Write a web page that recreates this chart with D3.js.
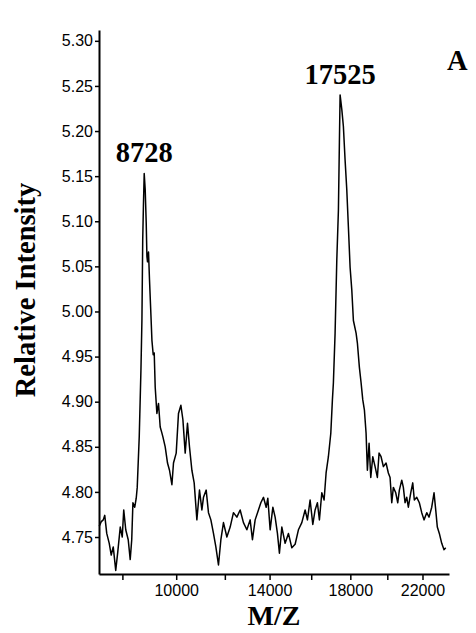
<!DOCTYPE html>
<html>
<head>
<meta charset="utf-8">
<script src="https://cdn.jsdelivr.net/npm/d3@7"></script>
<style>
  body { margin: 0; background: #fff; }
  .tick text { font-family: "Liberation Sans", Arial, sans-serif; font-size: 16px; fill: #000; }
  .ttl { font-family: "Liberation Serif", "Times New Roman", serif; font-weight: bold; fill: #000; }
</style>
</head>
<body>
<script>
 // spectrum readings (m/z , relative intensity)
 var mz = [7208,7275,7342,7393,7460,7545,7613,7682,7768,7837,7925,7995,8047,8118,8206,8277,8331,8374,8439,8493,
   8529,8602,8664,8700,8729,8755,8784,8821,8858,8884,8906,8943,8980,9025,9070,9118,9156,9193,9257,9318,
   9382,9440,9485,9573,9662,9739,9832,9894,10000,10090,10185,10265,10356,10448,10528,10625,10718,10828,10935,11033,
   11099,11211,11307,11407,11516,11617,11728,11830,11941,12087,12230,12373,12522,12667,12813,12965,13112,13216,13338,13488,
   13597,13717,13841,13919,14026,14152,14259,14367,14461,14575,14731,14889,15052,15211,15371,15537,15699,15812,15945,16079,
   16194,16309,16409,16530,16646,16747,16864,16987,17069,17120,17207,17295,17378,17429,17466,17554,17637,17725,17814,17898,
   17988,18077,18162,18305,18374,18480,18571,18662,18748,18839,18909,19001,19093,19201,19327,19452,19545,19655,19782,19931,
   20058,20153,20248,20337,20471,20584,20674,20810,20900,20997,21093,21185,21322,21436,21528,21667,21817,21956,22090,22248,
   22383,22541,22677,22777,22872,22991,23134,23271,23373];
 var intensity = [4.762,4.767,4.769,4.774,4.754,4.743,4.730,4.739,4.713,4.733,4.761,4.750,4.780,4.758,4.747,4.725,4.747,4.788,4.783,4.793,
   4.805,4.861,4.935,4.990,5.079,5.117,5.153,5.135,5.098,5.061,5.055,5.066,5.035,5.002,4.968,4.952,4.954,4.916,4.887,4.898,
   4.872,4.866,4.861,4.850,4.832,4.824,4.808,4.832,4.843,4.887,4.896,4.880,4.843,4.876,4.850,4.824,4.810,4.769,4.802,4.780,
   4.794,4.802,4.777,4.769,4.754,4.739,4.719,4.747,4.766,4.750,4.761,4.777,4.772,4.780,4.766,4.758,4.769,4.747,4.769,4.780,
   4.788,4.794,4.783,4.793,4.758,4.783,4.772,4.754,4.732,4.761,4.743,4.754,4.738,4.742,4.758,4.766,4.780,4.769,4.791,4.764,
   4.780,4.788,4.769,4.799,4.791,4.821,4.839,4.865,4.902,4.921,4.976,5.057,5.112,5.187,5.240,5.224,5.205,5.168,5.135,5.094,
   5.049,5.024,4.990,4.976,4.965,4.938,4.921,4.902,4.891,4.865,4.824,4.854,4.816,4.839,4.828,4.816,4.843,4.839,4.828,4.832,
   4.821,4.816,4.788,4.805,4.799,4.788,4.802,4.813,4.805,4.788,4.794,4.783,4.799,4.810,4.791,4.794,4.788,4.777,4.769,4.777,
   4.772,4.783,4.799,4.780,4.761,4.754,4.743,4.736,4.738];

 // axis ticks
 var yTicks = [4.75,4.80,4.85,4.90,4.95,5.00,5.05,5.10,5.15,5.20,5.25,5.30];
 var xTicks = [8000,10000,12000,14000,16000,18000,20000,22000];
 var xLabelled = [10000,14000,18000,22000];

 // peak labels
 var peaks = [{label:"8728", mz:8784, v:5.153}, {label:"17525", mz:17466, v:5.240}];

 var margin = {top: 30, right: 27, bottom: 59, left: 99};
 var width = 476 - margin.left - margin.right;
 var height = 633 - margin.top - margin.bottom;

 var svg = d3.select("body").append("svg")
   .attr("width", 476)
   .attr("height", 633);

 var g = svg.append("g").attr("transform", "translate(" + margin.left + "," + margin.top + ")");

 // time-of-flight style axis: square root spacing
 var x = d3.scalePow().exponent(0.5).domain([7200, 23570]).range([0, width]);
 var y = d3.scaleLinear().domain([4.709, 5.312]).range([height, 0]);

 var line = d3.line()
   .x(function(d, i){ return x(mz[i]); })
   .y(function(d){ return y(d); });

 g.append("path")
   .datum(intensity)
   .attr("d", line)
   .attr("fill", "none")
   .attr("stroke", "#000")
   .attr("stroke-width", 1.5)
   .attr("stroke-linejoin", "round");

 // axes
 var yAxis = g.append("g")
   .call(d3.axisLeft(y).tickValues(yTicks).tickFormat(d3.format(".2f")).tickSize(4).tickSizeOuter(0).tickPadding(2));

 var xAxis = g.append("g")
   .attr("transform", "translate(0," + height + ")")
   .call(d3.axisBottom(x).tickValues(xTicks)
     .tickFormat(function(d){ return xLabelled.indexOf(d) >= 0 ? d : ""; })
     .tickSize(6).tickSizeOuter(0).tickPadding(5));

 [yAxis, xAxis].forEach(function(a){
   a.select(".domain").attr("stroke", "#000").attr("stroke-width", 2);
   a.selectAll(".tick line").attr("stroke", "#000").attr("stroke-width", 1.5);
 });

 // peak labels
 g.selectAll(".peak")
   .data(peaks)
   .enter().append("text")
   .attr("class", "ttl peak")
   .attr("x", function(d){ return x(d.mz); })
   .attr("y", function(d){ return y(d.v) - 11; })
   .attr("text-anchor", "middle")
   .attr("font-size", 28.5)
   .text(function(d){ return d.label; });

 // titles
 svg.append("text")
   .attr("class", "ttl")
   .attr("transform", "translate(35," + (margin.top + 260) + ") rotate(-90)")
   .attr("text-anchor", "middle")
   .attr("font-size", 28.5)
   .text("Relative Intensity");

 svg.append("text")
   .attr("class", "ttl")
   .attr("x", margin.left + width / 2)
   .attr("y", 625)
   .attr("text-anchor", "middle")
   .attr("font-size", 28)
   .text("M/Z");

 svg.append("text")
   .attr("class", "ttl")
   .attr("x", 447)
   .attr("y", 70)
   .attr("font-size", 28.5)
   .text("A");
</script>
</body>
</html>
